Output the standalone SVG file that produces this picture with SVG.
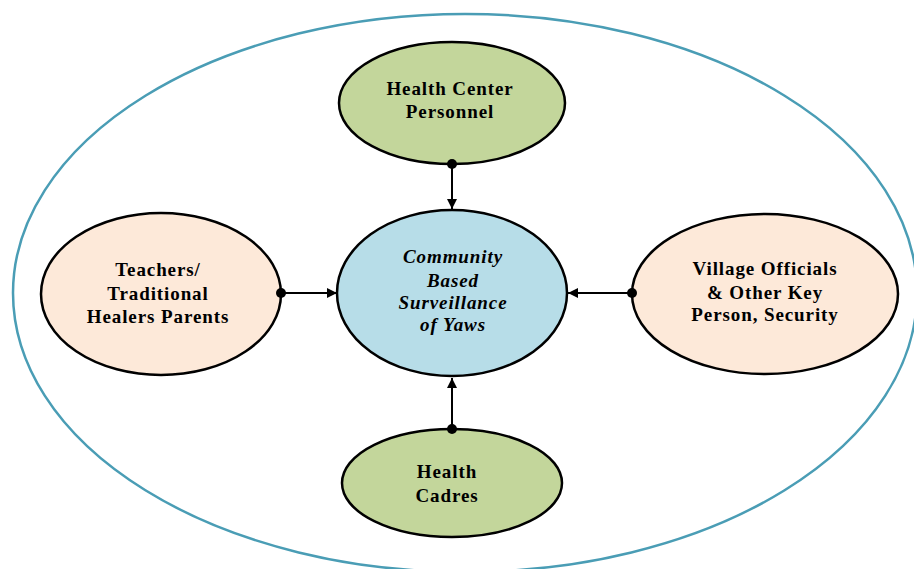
<svg xmlns="http://www.w3.org/2000/svg" width="914" height="569" viewBox="0 0 914 569">
<defs>
<marker id="arrow" viewBox="0 0 10 10" refX="10" refY="5" markerWidth="11" markerHeight="10" markerUnits="userSpaceOnUse" orient="auto">
<path d="M0,0 L10,5 L0,10 z" fill="#000"/>
</marker>
<style>
.node{stroke:#000;stroke-width:2.5}
.green{fill:#c3d69b}
.peach{fill:#fde9d9}
.blue{fill:#b7dde8}
.t{font-family:"Liberation Serif","Times New Roman",serif;font-weight:bold;font-size:19px;letter-spacing:0.9px;text-anchor:middle;fill:#000}
.it{font-style:italic}
.conn{stroke:#000;stroke-width:2;fill:none}
.dot{fill:#000}
</style>
</defs>
<rect width="914" height="569" fill="#fff"/>
<ellipse id="outer" cx="465" cy="293" rx="452" ry="279" fill="none" stroke="#4a9db5" stroke-width="2.5"/>
<g id="health-center">
<ellipse class="node green" cx="452" cy="103" rx="113" ry="61"/>
<text class="t" x="450" y="95">Health Center</text>
<text class="t" x="450" y="118">Personnel</text>
</g>
<g id="center">
<ellipse class="node blue" cx="452" cy="293" rx="115" ry="83"/>
<text class="t it" x="453" y="263">Community</text>
<text class="t it" x="453" y="287">Based</text>
<text class="t it" x="453" y="309">Surveillance</text>
<text class="t it" x="453" y="331">of Yaws</text>
</g>
<g id="teachers">
<ellipse class="node peach" cx="161" cy="294" rx="120" ry="81"/>
<text class="t" x="158" y="276">Teachers/</text>
<text class="t" x="158" y="300">Traditional</text>
<text class="t" x="158" y="323">Healers Parents</text>
</g>
<g id="village">
<ellipse class="node peach" cx="765" cy="294" rx="133" ry="80"/>
<text class="t" x="765" y="275">Village Officials</text>
<text class="t" x="765" y="299">&amp; Other Key</text>
<text class="t" x="765" y="321">Person, Security</text>
</g>
<g id="cadres">
<ellipse class="node green" cx="452" cy="483" rx="110" ry="54"/>
<text class="t" x="447" y="478">Health</text>
<text class="t" x="447" y="502">Cadres</text>
</g>
<g id="connectors">
<line class="conn" x1="452" y1="164" x2="452" y2="209" marker-end="url(#arrow)"/>
<circle class="dot" cx="452" cy="164" r="5"/>
<line class="conn" x1="452" y1="429" x2="452" y2="378" marker-end="url(#arrow)"/>
<circle class="dot" cx="452" cy="429" r="5"/>
<line class="conn" x1="281" y1="293" x2="337" y2="293" marker-end="url(#arrow)"/>
<circle class="dot" cx="281" cy="293" r="5"/>
<line class="conn" x1="632" y1="293" x2="568" y2="293" marker-end="url(#arrow)"/>
<circle class="dot" cx="632" cy="293" r="5"/>
</g>
</svg>
